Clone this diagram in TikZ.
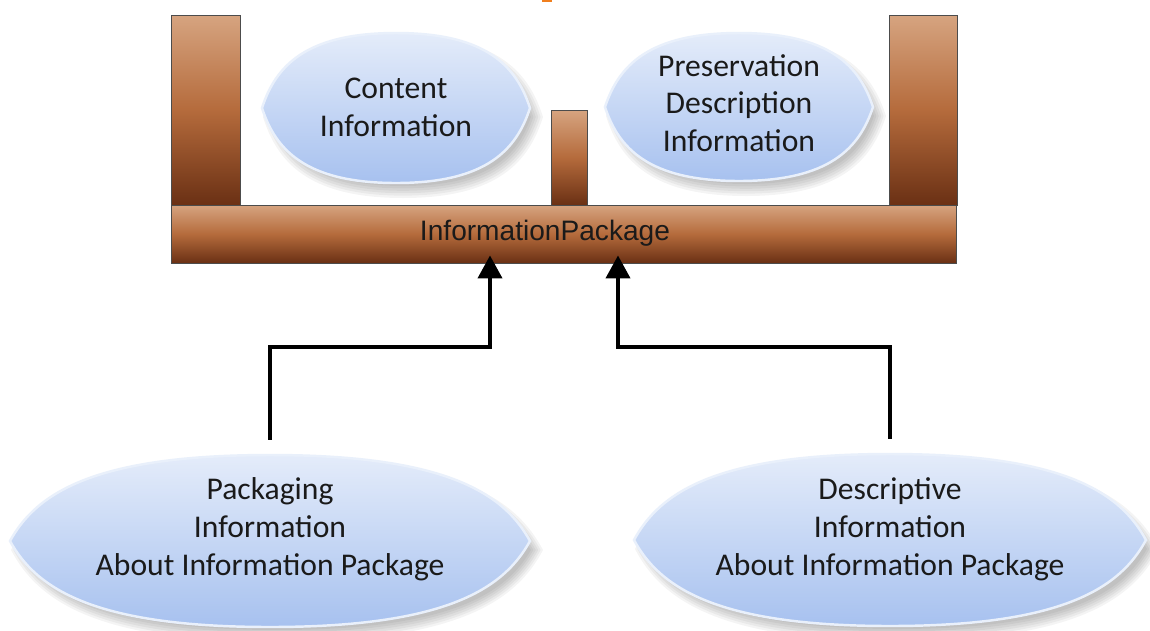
\documentclass[tikz,border=0pt]{standalone}
\usepackage{fontspec}
\setmainfont{Carlito}
\newfontfamily\arialf{Liberation Sans}
\usetikzlibrary{arrows.meta,shapes.geometric,calc}
\definecolor{brlight}{HTML}{D6A480}
\definecolor{brmid}{HTML}{B56B3C}
\definecolor{brdark}{HTML}{6A3014}
\definecolor{eltop}{HTML}{E4ECFA}
\definecolor{elmid}{HTML}{C8D9F5}
\definecolor{elbot}{HTML}{A7C1EF}
\definecolor{txt}{HTML}{1A1A1A}
\definecolor{orangemark}{HTML}{F07F1E}
\tikzset{
  brownbox/.style={top color=brlight, bottom color=brdark, middle color=brmid, draw=black!70, line width=0.5pt},
  anchorell/.style={ellipse, inner sep=0pt, draw=none},
  lensfill/.style={top color=eltop, middle color=elmid, bottom color=elbot, draw=white!60!elmid, line width=1.4pt},
  eltext/.style={align=center, text=txt, font=\fontsize{18}{21.5}\selectfont, inner sep=0pt},
  conn/.style={line width=2.3pt, line join=miter, -{Triangle[width=0.48cm,length=0.46cm]}},
}
% soft ellipse with slightly pointed ends: #1 style, #2 cx, #3 cy, #4 rx, #5 ry
\newcommand{\lensat}[5]{%
  \path[#1, shift={(#2,#3)}] (-#4,0)
    .. controls (-0.9*#4,-0.55*#5) and (-0.68*#4,-#5) .. (0,-#5)
    .. controls (0.68*#4,-#5) and (0.9*#4,-0.55*#5) .. (#4,0)
    .. controls (0.9*#4,0.55*#5) and (0.68*#4,#5) .. (0,#5)
    .. controls (-0.68*#4,#5) and (-0.9*#4,0.55*#5) .. (-#4,0) -- cycle;}
\newcommand{\lensshadow}[4]{%
  \foreach \k in {0,...,5}{%
    \pgfmathsetmacro{\rxx}{#3-6+2.4*\k}%
    \pgfmathsetmacro{\ryy}{#4-6+2.4*\k}%
    \lensat{fill=black, opacity=0.045}{#1+7}{#2+9}{\rxx}{\ryy}%
  }%
}
\begin{document}
\begin{tikzpicture}[x=0.02cm, y=-0.02cm]
\useasboundingbox (0,0) rectangle (1150,630);
\fill[white] (0,0) rectangle (1150,630);
% small orange mark at top edge
\fill[orangemark] (542,0) rectangle (552,2);
% pillars
\path[brownbox] (171,15) rectangle (240,205);
\path[brownbox] (551,110) rectangle (587,205);
\path[brownbox] (889,15) rectangle (957,205);
% base bar
\node[brownbox, minimum width=15.72cm, minimum height=1.16cm, inner sep=0pt] (bar) at (564,234) {};
\node[font=\arialf\fontsize{16}{19}\selectfont, text=txt, inner sep=0pt] (barlabel) at (545,233) {InformationPackage};
% top ellipses
\lensshadow{396}{108}{134}{75}
\node[anchorell, minimum width=5.36cm, minimum height=3.0cm] (content) at (396,108) {};
\lensat{lensfill}{396}{108}{134}{75}
\node[eltext] (contentt) at (396,107) {Content\\Information};
\lensshadow{739}{107}{134}{74}
\node[anchorell, minimum width=5.36cm, minimum height=2.96cm] (pres) at (739,107) {};
\lensat{lensfill}{739}{107}{134}{74}
\node[eltext] (prest) at (739,103) {Preservation\\Description\\Information};
% bottom ellipses
\lensshadow{270}{541}{260}{86}
\node[anchorell, minimum width=10.4cm, minimum height=3.44cm] (pkg) at (270,541) {};
\lensat{lensfill}{270}{541}{260}{86}
\node[eltext] (pkgt) at (270,529) {Packaging\\Information\\About Information Package};
\lensshadow{890}{540}{256}{86}
\node[anchorell, minimum width=10.24cm, minimum height=3.44cm] (desc) at (890,540) {};
\lensat{lensfill}{890}{540}{256}{86}
\node[eltext] (desct) at (890,529) {Descriptive\\Information\\About Information Package};
% connectors
\draw[conn] ([yshift=0.3cm]pkg.north) |- ($(bar.south)+(-74,84)$) -- ($(bar.south)+(-74,-8)$);
\draw[conn] ([yshift=0.3cm]desc.north) |- ($(bar.south)+(54,84)$) -- ($(bar.south)+(54,-8)$);
\end{tikzpicture}
\end{document}
